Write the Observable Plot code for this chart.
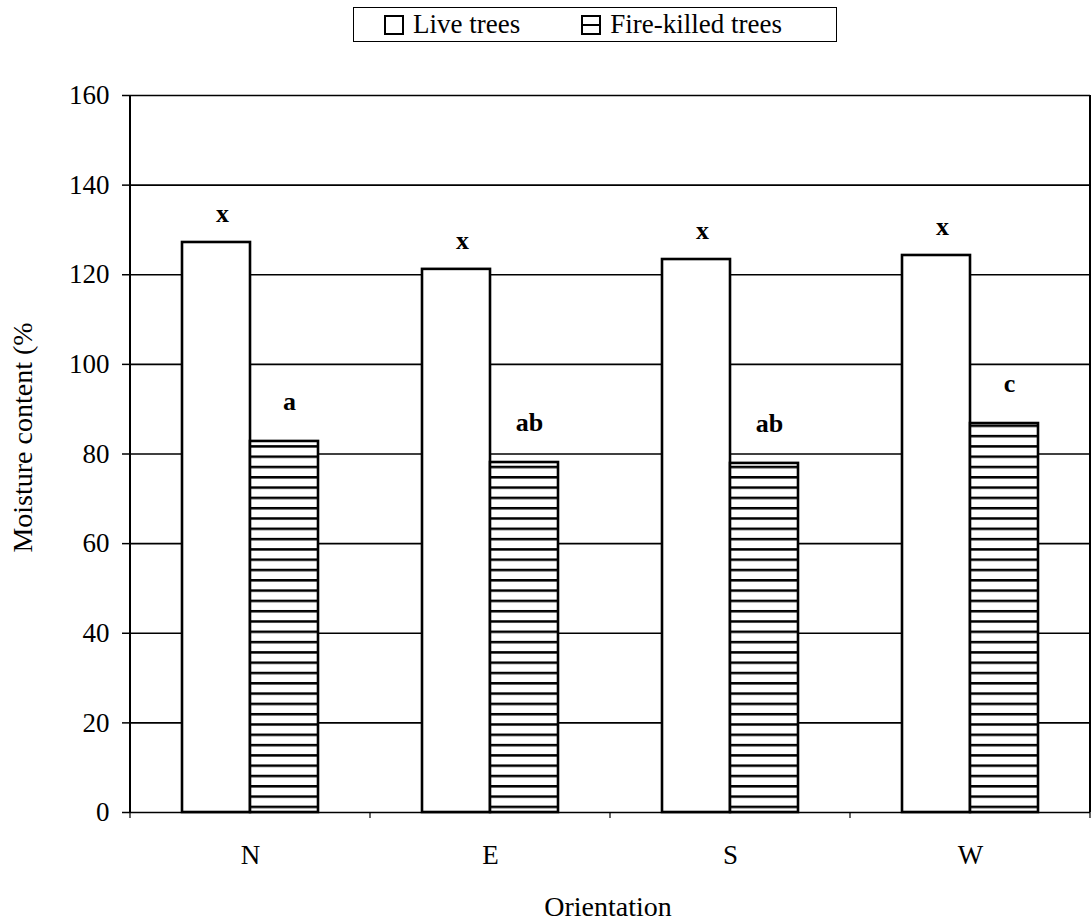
<!DOCTYPE html>
<html><head><meta charset="utf-8">
<script src="https://cdn.jsdelivr.net/npm/d3@7"></script>
<script src="https://cdn.jsdelivr.net/npm/@observablehq/plot@0.6"></script>
<style>
body{margin:0;background:#fff;font-family:'Liberation Serif','Times New Roman',serif;color:#000}
#wrap{position:relative;width:1092px;height:922px;overflow:hidden;background:#fff}
#legend{position:absolute;left:353px;top:7px;width:482px;height:33px;border:1.5px solid #000;display:flex;align-items:center;font-size:27px;line-height:1;box-sizing:content-box}
#legend .item{display:flex;align-items:center}
#legend svg{display:block}
#chart{position:absolute;left:0;top:50px}
</style></head>
<body>
<svg width="0" height="0" style="position:absolute">
  <defs>
    <pattern id="hatch" patternUnits="userSpaceOnUse" width="10" height="10.3">
      <rect width="10" height="10.3" fill="#fff"></rect>
      <line x1="0" y1="5" x2="10" y2="5" stroke="#000" stroke-width="2.5"></line>
    </pattern>
  </defs>
</svg>
<div id="wrap"><div id="legend"></div><div id="chart"></div></div>
<script>
// ---- data ----
const orientations = ["N", "E", "S", "W"];
const seriesNames = ["Live trees", "Fire-killed trees"];
const liveValues = [127.2, 121.2, 123.4, 124.3];
const fireValues = [82.8, 78.1, 77.9, 86.8];
const liveLetters = ["x", "x", "x", "x"];
const fireLetters = ["a", "ab", "ab", "c"];
const yTicks = [0, 20, 40, 60, 80, 100, 120, 140, 160];
const yTitle = "Moisture content (%";
const xTitle = "Orientation";

const data = orientations.flatMap((o, i) => [
  {orientation: o, series: seriesNames[0], value: liveValues[i], letter: liveLetters[i]},
  {orientation: o, series: seriesNames[1], value: fireValues[i], letter: fireLetters[i]}
]);
const liveData = data.filter(d => d.series === seriesNames[0]);
const fireData = data.filter(d => d.series === seriesNames[1]);

// ---- legend ----
const legend = d3.select("#legend");
seriesNames.forEach((name, i) => {
  const item = legend.append("div").attr("class", "item")
    .style("margin-left", i === 0 ? "30px" : "61px");
  const s = item.append("svg").attr("width", 20).attr("height", 20);
  s.append("rect").attr("x", 1).attr("y", 1).attr("width", 18).attr("height", 18)
    .attr("fill", "#fff").attr("stroke", "#000").attr("stroke-width", 2);
  if (i === 1) s.append("line").attr("x1", 1).attr("x2", 19).attr("y1", 10).attr("y2", 10)
    .attr("stroke", "#000").attr("stroke-width", 2);
  item.append("span").style("margin-left", "9px").text(name);
});

// ---- chart ----
const plot = Plot.plot({
  width: 1092,
  height: 872,
  marginTop: 45,
  marginBottom: 110,
  marginLeft: 129,
  marginRight: 2,
  style: {fontFamily: "'Liberation Serif', 'Times New Roman', serif", fontSize: "27px", background: "#fff", color: "#000", overflow: "visible"},
  fx: {domain: orientations, padding: 0},
  x: {domain: seriesNames, paddingInner: 0, paddingOuter: 0.74, axis: null},
  y: {domain: [0, 160]},
  color: {domain: seriesNames, range: ["#fff", "url(#hatch)"]},
  marks: [
    Plot.ruleY(yTicks, {stroke: "#000", strokeWidth: 1.6}),
    Plot.barY(data, {fx: "orientation", x: "series", y: "value", fill: "series", stroke: "#000", strokeWidth: 2.6}),
    Plot.text(liveData, {fx: "orientation", x: "series", y: "value", text: "letter", dy: -29, dx: 6, fontWeight: "bold", fontSize: 26}),
    Plot.text(fireData, {fx: "orientation", x: "series", y: "value", text: "letter", dy: -40, dx: 5, fontWeight: "bold", fontSize: 26}),
    Plot.axisY({ticks: yTicks, tickSize: 8, tickPadding: 13, label: null, fontSize: 27, strokeWidth: 1.5}),
    Plot.axisFx({anchor: "bottom", tickSize: 0, tickPadding: 32, label: null, fontSize: 27})
  ]
});
document.getElementById("chart").appendChild(plot);

// frame borders, category boundary ticks and axis titles, from Plot's scales
const svg = d3.select(plot);
const fxs = plot.scale("fx"), ys = plot.scale("y");
const y0 = ys.apply(0), yTop = ys.apply(yTicks[yTicks.length - 1]);
const bounds = orientations.map(o => fxs.apply(o));
bounds.push(fxs.apply(orientations[orientations.length - 1]) + fxs.bandwidth);
const g = svg.append("g");
[bounds[0], bounds[bounds.length - 1]].forEach(x => {
  g.append("line").attr("x1", x).attr("x2", x).attr("y1", yTop).attr("y2", y0)
    .attr("stroke", "#000").attr("stroke-width", 2);
});
bounds.forEach(x => {
  g.append("line").attr("x1", x).attr("x2", x).attr("y1", y0).attr("y2", y0 + 6)
    .attr("stroke", "#000").attr("stroke-width", 1.2);
});
const midX = (bounds[0] + bounds[bounds.length - 1]) / 2;
g.append("text").attr("x", midX - 2).attr("y", 866).attr("text-anchor", "middle")
  .attr("font-size", 28).attr("fill", "#000").text(xTitle);
g.append("text").attr("transform", `translate(32,${(yTop + y0) / 2 - 16}) rotate(-90)`)
  .attr("text-anchor", "middle").attr("font-size", 28).attr("fill", "#000").text(yTitle);
</script>
</body></html>
